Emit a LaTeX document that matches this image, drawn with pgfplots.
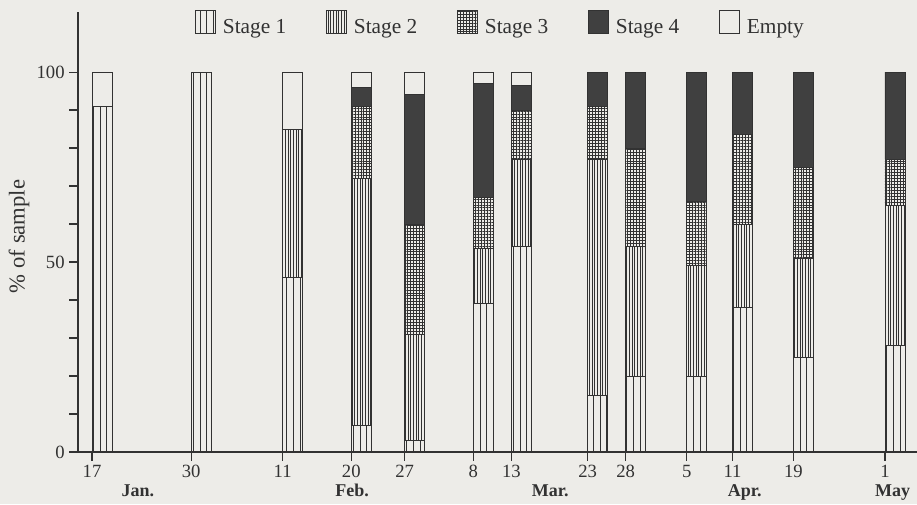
\documentclass[border=0pt]{standalone}
\usepackage{fontspec}
\setmainfont{Liberation Serif}
\usepackage{pgfplots}
\pgfplotsset{compat=1.18}
\usepackage{pgfplotstable}
\usetikzlibrary{patterns.meta}
\definecolor{paper}{RGB}{237,236,232}
\definecolor{ink}{RGB}{50,50,50}
\definecolor{dark}{RGB}{64,64,64}

% day of year, percentage of sample in each stage
\pgfplotstableread{
day S1  S2   S3   S4   E
17  91  0    0    0    9
30  100 0    0    0    0
42  46  39   0    0    15
51  7   65   19   5    4
58  3   28   29   34   6
67  39  14.5 13.5 30   3
72  54  23   13   6.5  3.5
82  15  62   14   9    0
87  20  34   26   20   0
95  20  29   17   34   0
101 38  22   23.5 16.5 0
109 25  26   24   25   0
121 28  37   12   23   0
}\data

\begin{document}
\begin{tikzpicture}
\fill[paper] (-58.5pt,-39pt) rectangle (629.25pt,339pt);
\begin{axis}[
  at={(0,0)}, anchor=south west,
  scale only axis, width=629.25pt, height=330pt,
  xmin=15.16, xmax=125.2, ymin=0, ymax=115.8,
  axis x line=bottom, axis y line=left,
  axis line style={-, line width=0.9pt, ink},
  /pgf/number format/assume math mode=true,
  ybar stacked,
  clip=false,
  tick align=outside,
  major tick length=6.5pt,
  tick style={line width=0.8pt, ink},
  xtick={17,30,42,51,58,67,72,82,87,95,101,109,121},
  xticklabels={17,30,11,20,27,8,13,23,28,5,11,19,1},
  ytick={0,10,...,100},
  yticklabels={0,{},{},{},{},50,{},{},{},{},100},
  tick label style={font=\fontsize{14}{16}\selectfont, text=ink},
  ylabel={\% of sample},
  ylabel style={font=\fontsize{17}{19}\selectfont, text=ink, at={(axis description cs:-0.0703,0.49)}, anchor=center},
  legend columns=5,
  legend style={draw=none, fill=none, font=\fontsize{16}{18}\selectfont, text=ink,
    at={(axis description cs:0.1395,1.0045)}, anchor=north west, inner sep=0pt,
    nodes={inner sep=0pt},
    /tikz/every odd column/.style={column sep=5pt},
    /tikz/every even column/.style={column sep=30pt}},
  mybar/.style={draw=ink, line width=0.7pt, bar width=15pt, bar shift=7.5pt,
    legend image code/.code={\draw[##1] (0pt,-4.5pt) rectangle (15pt,12.75pt);}},
]
\addplot[mybar, pattern={Lines[angle=90,distance=5pt,line width=0.6pt]}, pattern color=ink] table[x=day,y=S1]{\data};
\addlegendentry{Stage 1}
\addplot[mybar, pattern={Lines[angle=90,distance=2pt,line width=0.4pt]}, pattern color=ink] table[x=day,y=S2]{\data};
\addlegendentry{Stage 2}
\addplot[mybar, pattern={Hatch[angle=0,distance=2.2pt,line width=0.4pt]}, pattern color=ink] table[x=day,y=S3]{\data};
\addlegendentry{Stage 3}
\addplot[mybar, fill=dark] table[x=day,y=S4]{\data};
\addlegendentry{Stage 4}
\addplot[mybar, fill=none] table[x=day,y=E]{\data};
\addlegendentry{Empty}
\node[font=\fontsize{13.5}{15}\bfseries\selectfont, text=ink, anchor=base] at (axis cs:23,0) [yshift=-33.5pt] {Jan.};
\node[font=\fontsize{13.5}{15}\bfseries\selectfont, text=ink, anchor=base] at (axis cs:51.1,0) [yshift=-33.5pt] {Feb.};
\node[font=\fontsize{13.5}{15}\bfseries\selectfont, text=ink, anchor=base] at (axis cs:77.1,0) [yshift=-33.5pt] {Mar.};
\node[font=\fontsize{13.5}{15}\bfseries\selectfont, text=ink, anchor=base] at (axis cs:102.6,0) [yshift=-33.5pt] {Apr.};
\node[font=\fontsize{13.5}{15}\bfseries\selectfont, text=ink, anchor=base] at (axis cs:122,0) [yshift=-33.5pt] {May};
\end{axis}
\pgfresetboundingbox
\path[use as bounding box] (-58.5pt,-39pt) rectangle (629.25pt,339pt);
\end{tikzpicture}
\end{document}
